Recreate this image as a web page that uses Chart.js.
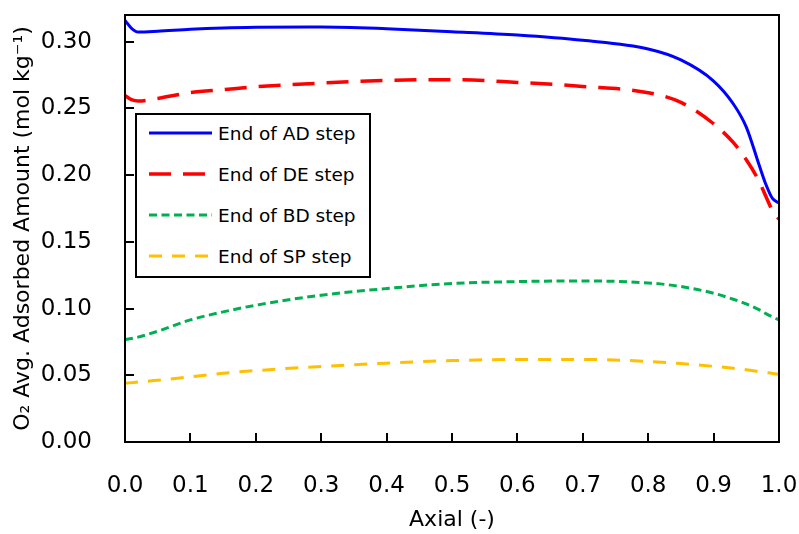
<!DOCTYPE html>
<html>
<head>
<meta charset="utf-8">
<script src="https://cdn.jsdelivr.net/npm/chart.js@4.4.0/dist/chart.umd.min.js"></script>
<style>
  body { margin: 0; background: #fff; }
  #wrap { position: relative; width: 799px; height: 534px; }
  #legenda {
    position: absolute; left: 135px; top: 113px; width: 232px; height: 161px;
    border: 2px solid #000; background: #fff;
    font-family: "DejaVu Sans", sans-serif; font-size: 18.5px; color: #000;
  }
  .item { position: absolute; left: 12px; height: 24px; display: flex; align-items: center; }
  .item svg { margin-right: 6px; }
</style>
</head>
<body>
<div id="wrap">
  <canvas id="grafico" width="799" height="534"></canvas>
  <div id="legenda"></div>
</div>
<script>
// posições axiais (comum a todas as séries)
const axial = [0, 0.01, 0.02, 0.05, 0.1, 0.15, 0.2, 0.3, 0.4, 0.5, 0.6, 0.7, 0.8, 0.85, 0.9, 0.93, 0.95, 0.97, 0.98, 0.99, 1.0];

const fimAD = [0.316, 0.310, 0.3072, 0.3078, 0.3093, 0.3103, 0.3108, 0.311, 0.3097, 0.3075, 0.305, 0.301, 0.2945, 0.2863, 0.2705, 0.2535, 0.236, 0.207, 0.193, 0.1825, 0.179];
const fimDE = [0.2597, 0.2565, 0.2555, 0.2575, 0.2618, 0.264, 0.2662, 0.269, 0.271, 0.2715, 0.2695, 0.2665, 0.2618, 0.2545, 0.2385, 0.2245, 0.2115, 0.195, 0.184, 0.1735, 0.167];
const fimBD = [0.0767, 0.0776, 0.0786, 0.083, 0.0915, 0.0975, 0.1025, 0.110, 0.115, 0.1188, 0.1202, 0.1207, 0.1192, 0.1165, 0.1115, 0.107, 0.1035, 0.099, 0.0962, 0.0937, 0.0915];
const fimSP = [0.044, 0.0445, 0.045, 0.0462, 0.0488, 0.0515, 0.0535, 0.0566, 0.0591, 0.061, 0.0619, 0.0619, 0.0604, 0.0588, 0.0567, 0.0553, 0.0542, 0.0528, 0.0521, 0.0514, 0.0508];

// marcas dos eixos
const ticksX = [0, 0.1, 0.2, 0.3, 0.4, 0.5, 0.6, 0.7, 0.8, 0.9, 1.0];
const ticksY = [0, 0.05, 0.10, 0.15, 0.20, 0.25, 0.30];

const rotulos = ['End of AD step', 'End of DE step', 'End of BD step', 'End of SP step'];
const cores = ['#0000FF', '#FF0000', '#00B050', '#FFC000'];
const tracos = [[], [22, 12], [8, 4.5], [13, 10]];
const series = [fimAD, fimDE, fimBD, fimSP];

const fonte = '"DejaVu Sans", sans-serif';

// caixa do gráfico e marcas para dentro
const caixaPlugin = {
    id: 'caixa',
    afterDatasetsDraw(chart) {
        const ctx = chart.ctx;
        const a = chart.chartArea;
        const sx = chart.scales.x, sy = chart.scales.y;
        ctx.save();
        ctx.strokeStyle = '#000';
        ctx.lineWidth = 2;
        ctx.beginPath();
        sx.ticks.forEach(t => {
            const px = Math.round(sx.getPixelForValue(t.value));
            ctx.moveTo(px, a.bottom);
            ctx.lineTo(px, a.bottom - 9);
        });
        sy.ticks.forEach(t => {
            const py = Math.round(sy.getPixelForValue(t.value));
            ctx.moveTo(a.left, py);
            ctx.lineTo(a.left + 9, py);
        });
        ctx.stroke();
        ctx.strokeRect(a.left, a.top, a.right - a.left, a.bottom - a.top);
        ctx.restore();
    }
};

function semPadding(s) {
    s.paddingTop = 0; s.paddingBottom = 0; s.paddingLeft = 0; s.paddingRight = 0;
}

const grafico = new Chart(document.getElementById('grafico'), {
    type: 'line',
    data: {
        datasets: series.map((s, i) => ({
            label: rotulos[i],
            data: axial.map((x, j) => ({ x: x, y: s[j] })),
            borderColor: cores[i],
            borderWidth: i === 1 ? 3.5 : 3,
            borderDash: tracos[i],
            pointRadius: 0,
            fill: false,
            cubicInterpolationMode: 'monotone'
        }))
    },
    options: {
        responsive: false,
        animation: false,
        layout: { padding: { left: 0, top: 15, right: 20, bottom: 0 } },
        plugins: { legend: { display: false }, tooltip: { enabled: false } },
        scales: {
            x: {
                type: 'linear', min: 0, max: 1,
                grid: { display: false }, border: { display: false },
                afterBuildTicks: s => { s.ticks = ticksX.map(v => ({ value: v })); },
                ticks: { padding: 22, color: '#000', font: { family: fonte, size: 23 },
                    callback: v => v.toFixed(1) },
                title: { display: true, text: 'Axial (-)', color: '#000', font: { family: fonte, size: 22 },
                    padding: { top: 0, bottom: 1 } },
                afterFit: s => { s.height = 92; semPadding(s); }
            },
            y: {
                type: 'linear', min: 0, max: 0.32,
                grid: { display: false }, border: { display: false },
                afterBuildTicks: s => { s.ticks = ticksY.map(v => ({ value: v })); },
                ticks: { padding: 25, color: '#000', font: { family: fonte, size: 23 },
                    callback: v => v.toFixed(2) },
                title: { display: true, text: 'O₂ Avg. Adsorbed Amount (mol kg⁻¹)', color: '#000',
                    font: { family: fonte, size: 22 }, padding: { top: 10, bottom: 0 } },
                afterFit: s => { s.width = 125; semPadding(s); }
            }
        }
    },
    plugins: [caixaPlugin]
});

// legenda em HTML dentro da área do gráfico
const legenda = document.getElementById('legenda');
grafico.data.datasets.forEach((ds, i) => {
    const item = document.createElement('div');
    item.className = 'item';
    item.style.top = (6 + i * 41) + 'px';
    const dash = ds.borderDash.length ? ds.borderDash.join(' ') : 'none';
    item.innerHTML = '<svg width="63" height="10"><line x1="0" y1="5" x2="63" y2="5" stroke="' + ds.borderColor +
        '" stroke-width="' + ds.borderWidth + '" stroke-dasharray="' + dash + '"/></svg><span>' + ds.label + '</span>';
    legenda.appendChild(item);
});
</script>
</body>
</html>
